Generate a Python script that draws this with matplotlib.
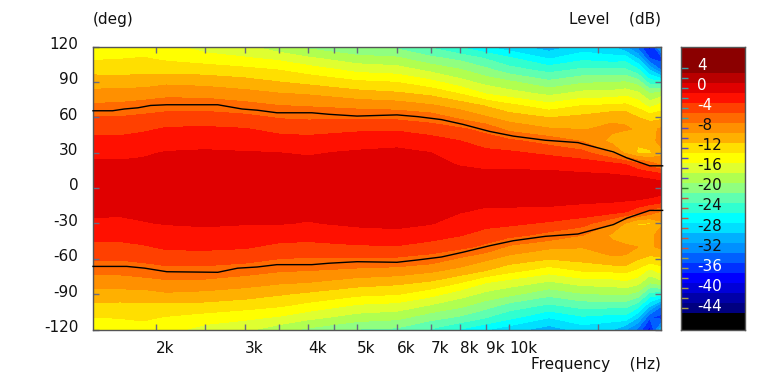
from matplotlib import pyplot as plt
from matplotlib.colors import ListedColormap
import numpy as np

plt.rcParams['font.family'] = 'DejaVu Sans'

freqs = [1500, 1700, 1890, 2100, 2500, 3000, 3500, 4000, 5000, 6000, 7000, 8000,
         9000, 10000, 12000, 14000, 16000, 17000, 18000, 19000, 20000]

# angle 0, 10, ... 120 for each frequency
angles_upper = [0, 10, 20, 30, 40, 50, 60, 70, 80, 90, 100, 110, 120]
db_upper = [
    [0, -0.3, -0.7, -1.4, -2.5, -3.6, -4.9, -6.7, -8.4, -10.0, -11.7, -13.3, -14.8],
    [0, -0.3, -0.7, -1.5, -2.5, -3.6, -4.9, -6.6, -8.2, -10.0, -11.8, -13.1, -14.5],
    [0, -0.3, -0.7, -1.2, -2.2, -3.3, -4.6, -6.2, -8.0, -10.0, -11.6, -12.9, -14.0],
    [0, -0.2, -0.6, -0.9, -1.9, -2.8, -4.2, -5.9, -7.6, -9.5, -11.8, -13.4, -14.5],
    [0, -0.2, -0.5, -0.8, -1.6, -2.7, -4.1, -5.9, -7.7, -9.8, -11.9, -14.1, -16.0],
    [0, -0.2, -0.6, -0.9, -1.9, -2.9, -4.5, -6.4, -8.3, -10.3, -12.4, -14.8, -16.7],
    [0, -0.3, -0.7, -1.0, -2.2, -3.6, -5.2, -7.0, -8.9, -11.0, -13.0, -15.5, -18.4],
    [0, -0.3, -0.6, -1.15, -2.4, -3.7, -5.4, -7.2, -9.2, -11.6, -13.9, -16.7, -19.6],
    [0, -0.2, -0.5, -0.8, -1.8, -3.4, -5.4, -7.7, -10.2, -12.7, -15.6, -18.2, -21.3],
    [0, -0.1, -0.3, -0.6, -1.6, -3.3, -5.5, -8.0, -10.7, -13.1, -16.0, -18.7, -21.6],
    [0, -0.2, -0.6, -1.0, -2.2, -4.0, -6.0, -8.8, -11.5, -14.5, -17.5, -20.5, -23.4],
    [0, -0.4, -1.1, -2.0, -3.0, -4.7, -7.5, -9.9, -13.1, -16.3, -18.8, -21.6, -25.3],
    [0, -0.5, -1.4, -2.5, -4.0, -5.7, -8.8, -11.2, -15.1, -17.8, -20.4, -23.2, -27.0],
    [0, -0.5, -1.4, -2.7, -4.6, -7.6, -10.0, -12.5, -16.1, -18.7, -22.1, -24.7, -28.4],
    [0, -0.5, -1.5, -3.5, -5.9, -8.8, -11.1, -14.3, -17.5, -20.6, -23.7, -27.2, -30.2],
    [0, -0.6, -1.9, -4.4, -7.2, -9.1, -10.5, -13.0, -16.3, -19.4, -22.5, -25.6, -28.3],
    [0, -0.7, -2.4, -7.3, -9.6, -8.6, -9.4, -12.8, -16.2, -19.1, -22.6, -26.2, -29.0],
    [0, -0.9, -3.0, -9.4, -10.5, -8.8, -9.4, -12.6, -15.6, -19.0, -22.6, -26.0, -31.0],
    [0, -1.1, -4.4, -11.3, -10.7, -9.2, -11.0, -13.7, -16.5, -20.0, -24.5, -29.2, -33.8],
    [0, -1.3, -5.8, -11.4, -9.8, -9.6, -11.8, -15.8, -19.0, -24.0, -29.0, -35.0, -38.0],
    [0, -1.7, -7.4, -9.6, -8.3, -8.7, -11.6, -14.3, -18.0, -24.5, -33.0, -36.0, -30.0],
]

# angle 0, -10, ... -120 for each frequency
db_lower = [
    [0, -0.3, -0.7, -1.3, -2.4, -3.5, -4.8, -6.5, -8.2, -9.8, -11.5, -13.1, -14.6],
    [0, -0.3, -0.7, -1.4, -2.4, -3.5, -4.8, -6.4, -8.0, -9.8, -11.6, -12.9, -14.3],
    [0, -0.3, -0.6, -1.1, -2.1, -3.2, -4.5, -6.0, -7.8, -9.8, -11.4, -12.7, -13.8],
    [0, -0.2, -0.5, -0.9, -1.8, -2.7, -4.0, -5.7, -7.4, -9.3, -11.6, -13.2, -14.3],
    [0, -0.2, -0.5, -0.8, -1.5, -2.6, -4.0, -5.7, -7.5, -9.6, -11.7, -13.9, -15.8],
    [0, -0.2, -0.5, -0.9, -1.8, -2.8, -4.3, -6.2, -8.1, -10.1, -12.2, -14.6, -16.5],
    [0, -0.3, -0.6, -0.9, -2.1, -3.5, -5.0, -6.8, -8.7, -10.8, -12.8, -15.3, -18.2],
    [0, -0.3, -0.6, -1.1, -2.3, -3.6, -5.2, -7.0, -9.0, -11.4, -13.7, -16.5, -19.4],
    [0, -0.2, -0.4, -0.7, -1.7, -3.3, -5.2, -7.5, -10.0, -12.5, -15.4, -18.0, -21.1],
    [0, -0.1, -0.3, -0.6, -1.5, -3.2, -5.3, -7.8, -10.5, -12.9, -15.8, -18.5, -21.4],
    [0, -0.2, -0.5, -0.9, -2.1, -3.9, -5.8, -8.6, -11.3, -14.3, -17.3, -20.3, -23.2],
    [0, -0.4, -0.9, -1.8, -2.9, -4.5, -7.3, -9.7, -12.9, -16.1, -18.6, -21.4, -25.1],
    [0, -0.5, -1.3, -2.4, -3.8, -5.5, -8.6, -11.0, -14.9, -17.6, -20.2, -23.0, -26.8],
    [0, -0.5, -1.3, -2.6, -4.4, -7.4, -9.8, -12.3, -15.9, -18.5, -21.9, -24.5, -28.2],
    [0, -0.5, -1.4, -3.3, -5.7, -8.6, -10.9, -14.1, -17.3, -20.4, -23.5, -27.0, -30.0],
    [0, -0.6, -1.8, -4.2, -7.0, -8.9, -10.3, -12.8, -16.1, -19.2, -22.3, -25.4, -28.1],
    [0, -0.7, -2.2, -7.0, -9.4, -8.4, -9.2, -12.6, -16.0, -18.9, -22.4, -26.0, -28.8],
    [0, -0.8, -2.8, -9.2, -10.3, -8.6, -9.2, -12.4, -15.4, -18.8, -22.4, -25.8, -30.8],
    [0, -1.0, -4.2, -11.1, -10.5, -9.0, -10.8, -13.5, -16.3, -19.8, -24.3, -29.0, -33.6],
    [0, -1.2, -5.6, -11.2, -9.6, -9.4, -11.6, -15.6, -18.8, -23.8, -28.8, -34.8, -37.8],
    [0, -1.6, -7.2, -9.4, -8.1, -8.5, -11.4, -14.1, -17.8, -24.3, -32.8, -35.8, -29.8],
]

# contour level edges and colours, lowest band first
level_edges = [-48.2, -45, -43, -41, -39, -37, -35, -33, -31, -29, -27, -25, -23, -21,
               -19, -17, -15, -13, -11, -9, -7, -5, -3, -1, 1, 3, 8.2]
band_colors = ["#000000", "#000080", "#0000a8", "#0000d8", "#0000ff", "#0030ff", "#0060ff",
               "#0090ff", "#00b0ff", "#00dfff", "#00ffff", "#30ffd0", "#60ffb0", "#90ff80",
               "#b0ff50", "#dfff30", "#ffff00", "#ffdf00", "#ffb000", "#ff9000", "#ff6a00",
               "#ff4000", "#ff1000", "#e00000", "#b80000", "#8b0000"]

# black contour line, runs a hair past the right edge like the original
line_upper_f = [1500, 1640, 1730, 1840, 1950, 2100, 2650, 2960, 3170, 3470, 4070, 4400, 5000,
                6000, 6600, 7350, 8100, 9150, 10200, 11800, 13700, 16100, 17100, 19000, 20150]
line_upper_deg = [65.5, 65.5, 67, 68, 70, 70.6, 70.6, 67, 66, 63.8, 63.8, 62.5, 61,
                  62, 60.5, 58, 54, 48, 44, 40.5, 38.5, 30.6, 25.6, 18.8, 18.8]
line_lower_f = [1500, 1750, 1900, 2100, 2650, 2900, 3170, 3470, 4070, 4400, 5000,
                6000, 6600, 7350, 8100, 9150, 10200, 11800, 13700, 16100, 17100, 19000, 20150]
line_lower_deg = [-66.5, -66.5, -68, -71, -71.5, -68, -67, -65, -65, -63.8, -62.5,
                  -63, -61, -58.5, -54.5, -49, -44.7, -41, -39, -31, -25.6, -19, -19]

xtick_freqs = [2000, 2500, 3000, 3500, 4000, 4500, 5000, 6000, 7000, 8000, 9000, 10000, 15000]
xlabel_freqs = [2000, 3000, 4000, 5000, 6000, 7000, 8000, 9000, 10000]
xlabel_texts = ["2k", "3k", "4k", "5k", "6k", "7k", "8k", "9k", "10k"]
ytick_values = [120, 90, 60, 30, 0, -30, -60, -90, -120]

bar_ticks = list(range(4, -46, -2))
bar_tick_colors = ["#3aa0a8"] * 6 + ["#5048c8"] * 6 + ["#2a7a2a"] + ["#d05038"] * 6 + ["#a8a040"] * 6
bar_labels = [4, 0, -4, -8, -12, -16, -20, -24, -28, -32, -36, -40, -44]
white_labels = [4, 0, -4, -36, -40, -44]

EDGE = "#555555"
FONT = 11
W, H = 766, 382

plt.rcParams['axes.unicode_minus'] = False
fig = plt.figure(figsize=(W / 100, H / 100), dpi=100)
ax = fig.add_axes([93 / W, 1 - 329.5 / H, 568 / W, 283 / H])
cax = fig.add_axes([681 / W, 1 - 329.5 / H, 64 / W, 283 / H])

angles = [-a for a in angles_upper[::-1]] + angles_upper[1:]
z = np.hstack([np.array(db_lower)[:, ::-1], np.array(db_upper)[:, 1:]]).T
ax.contourf(freqs, angles, z, levels=level_edges, colors=band_colors)
ax.plot(line_upper_f, line_upper_deg, color="black", lw=1.0, clip_on=False, zorder=5)
ax.plot(line_lower_f, line_lower_deg, color="black", lw=1.0, clip_on=False, zorder=5)

ax.set_xscale("log")
ax.set_xlim(1500, 20000)
ax.set_ylim(-120, 120)
ax.set_xticks(xtick_freqs)
ax.set_xticklabels([])
ax.minorticks_off()
ax.set_yticks(ytick_values)
ax.set_yticklabels([])
ax.tick_params(direction="in", top=True, right=True, length=4, width=1, color="#6a6a80")
for s in ax.spines.values():
    s.set_color(EDGE)
    s.set_linewidth(1.0)

for v in ytick_values:
    ax.annotate(str(v), xy=(0, v), xycoords=("axes fraction", "data"), xytext=(-10.5, 1.5),
                textcoords="offset points", ha="right", va="center", fontsize=FONT, color="#111111")
for f, t in zip(xlabel_freqs, xlabel_texts):
    ax.annotate(t, xy=(f, 0), xycoords=("data", "axes fraction"), xytext=(0, -13.5),
                textcoords="offset points", ha="left", va="center", fontsize=FONT, color="#111111")

fig.text(93 / W, 1 - 19.5 / H, "(deg)", ha="left", va="center", fontsize=FONT, color="#111111")
fig.text(661 / W, 1 - 19.5 / H, "Level    (dB)", ha="right", va="center", fontsize=FONT, color="#111111")
fig.text(661 / W, 1 - 364 / H, "Frequency    (Hz)", ha="right", va="center", fontsize=FONT, color="#111111")

cax.pcolormesh([0, 1], level_edges, np.arange(len(band_colors)).reshape(-1, 1),
               cmap=ListedColormap(band_colors), shading="flat")
cax.set_ylim(level_edges[0], level_edges[-1])
cax.set_xlim(0, 1)
cax.set_xticks([])
cax.set_yticks([])
for s in cax.spines.values():
    s.set_color(EDGE)
    s.set_linewidth(1.0)
cax.hlines(bar_ticks, 0, 7 / 64, colors=bar_tick_colors, lw=1.0)
for v in bar_labels:
    cax.annotate(str(v), xy=(16 / 64, v), xycoords=("axes fraction", "data"), xytext=(0, 1.5),
                 textcoords="offset points", ha="left", va="center", fontsize=FONT,
                 color="white" if v in white_labels else "#111111")

fig.savefig("out.png", dpi=100)
